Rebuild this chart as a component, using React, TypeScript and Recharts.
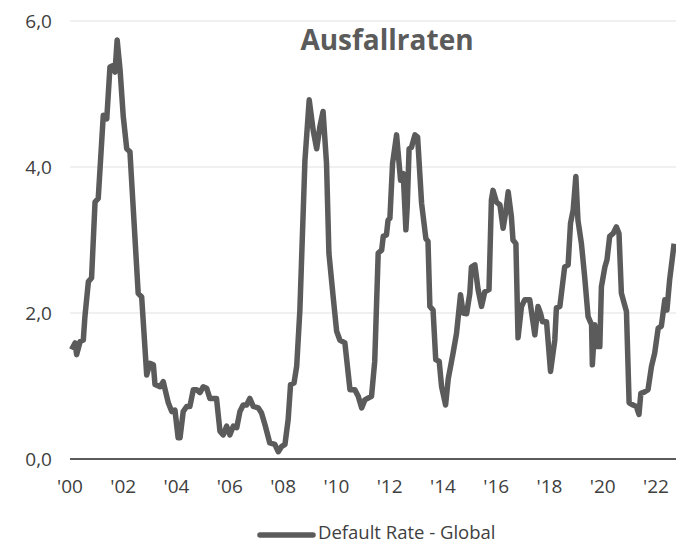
import { LineChart, Line, XAxis, YAxis, CartesianGrid, Legend, Customized } from "recharts";

// decimal years
const dates = [
  2000.06, 2000.19, 2000.25, 2000.38, 2000.5, 2000.56, 2000.69, 2000.81, 2000.94, 2001.06,
  2001.25, 2001.38, 2001.5, 2001.62, 2001.69, 2001.77, 2001.88, 2002.0, 2002.13, 2002.25,
  2002.56, 2002.69, 2002.88, 2003.0, 2003.13, 2003.19, 2003.38, 2003.5, 2003.69, 2003.82,
  2003.94, 2004.06, 2004.13, 2004.25, 2004.38, 2004.5, 2004.63, 2004.75, 2004.88, 2005.0,
  2005.13, 2005.25, 2005.5, 2005.63, 2005.75, 2005.88, 2006.0, 2006.13, 2006.26, 2006.38,
  2006.5, 2006.63, 2006.75, 2006.88, 2007.07, 2007.19, 2007.32, 2007.5, 2007.69, 2007.82,
  2007.94, 2008.07, 2008.19, 2008.28, 2008.41, 2008.51, 2008.63, 2008.82, 2008.98, 2009.13,
  2009.26, 2009.38, 2009.5, 2009.63, 2009.72, 2009.88, 2010.01, 2010.13, 2010.32, 2010.51,
  2010.69, 2010.82, 2010.95, 2011.07, 2011.32, 2011.44, 2011.57, 2011.7, 2011.76, 2011.88,
  2011.94, 2012.01, 2012.11, 2012.26, 2012.41, 2012.51, 2012.61, 2012.66, 2012.73, 2012.82,
  2012.95, 2013.05, 2013.2, 2013.36, 2013.44, 2013.51, 2013.63, 2013.73, 2013.86, 2013.95,
  2014.1, 2014.2, 2014.38, 2014.51, 2014.66, 2014.76, 2014.89, 2015.01, 2015.07, 2015.2,
  2015.32, 2015.45, 2015.57, 2015.73, 2015.82, 2015.88, 2016.01, 2016.14, 2016.26, 2016.36,
  2016.45, 2016.57, 2016.63, 2016.74, 2016.82, 2016.95, 2017.07, 2017.26, 2017.38, 2017.45,
  2017.57, 2017.66, 2017.74, 2017.89, 2018.04, 2018.2, 2018.26, 2018.39, 2018.45, 2018.57,
  2018.7, 2018.79, 2018.89, 2018.99, 2019.07, 2019.2, 2019.32, 2019.45, 2019.58, 2019.61,
  2019.7, 2019.76, 2019.89, 2019.95, 2020.08, 2020.16, 2020.26, 2020.39, 2020.51, 2020.61,
  2020.7, 2020.89, 2020.99, 2021.14, 2021.26, 2021.36, 2021.43, 2021.58, 2021.7, 2021.83,
  2021.95, 2022.08, 2022.2, 2022.33, 2022.41, 2022.51, 2022.68,
];

const rates = [
  1.5, 1.59, 1.43, 1.61, 1.63, 1.95, 2.43, 2.48, 3.52, 3.57,
  4.71, 4.66, 5.37, 5.39, 5.3, 5.74, 5.33, 4.69, 4.25, 4.21,
  2.27, 2.22, 1.15, 1.31, 1.29, 1.02, 0.99, 1.06, 0.77, 0.65,
  0.67, 0.29, 0.29, 0.65, 0.72, 0.72, 0.95, 0.95, 0.91, 0.99,
  0.97, 0.83, 0.83, 0.38, 0.33, 0.45, 0.33, 0.45, 0.43, 0.65,
  0.74, 0.74, 0.83, 0.72, 0.7, 0.63, 0.47, 0.22, 0.2, 0.1,
  0.17, 0.2, 0.54, 1.02, 1.04, 1.27, 2.04, 4.09, 4.92, 4.5,
  4.25, 4.55, 4.76, 4.05, 2.82, 2.22, 1.75, 1.63, 1.59, 0.95,
  0.95, 0.86, 0.7, 0.81, 0.86, 1.34, 2.82, 2.86, 3.05, 3.07,
  3.27, 3.3, 4.05, 4.44, 3.82, 3.91, 3.14, 3.46, 4.25, 4.27,
  4.44, 4.41, 3.5, 3.02, 2.98, 2.09, 2.04, 1.36, 1.34, 0.99,
  0.74, 1.1, 1.45, 1.72, 2.25, 2.0, 1.99, 2.27, 2.63, 2.66,
  2.32, 2.09, 2.29, 2.32, 3.55, 3.68, 3.52, 3.48, 3.16, 3.39,
  3.66, 3.32, 3.0, 2.95, 1.66, 2.09, 2.18, 2.18, 1.88, 1.7,
  2.09, 2.0, 1.88, 1.88, 1.2, 1.63, 2.07, 2.09, 2.27, 2.63,
  2.66, 3.23, 3.41, 3.87, 3.27, 2.95, 2.5, 1.95, 1.84, 1.29,
  1.84, 1.54, 1.54, 2.36, 2.63, 2.73, 3.05, 3.09, 3.18, 3.09,
  2.27, 2.02, 0.77, 0.74, 0.72, 0.61, 0.9, 0.92, 0.95, 1.27,
  1.45, 1.79, 1.82, 2.18, 2.04, 2.45, 2.95,
];

const yearTicks = [2000, 2002, 2004, 2006, 2008, 2010, 2012, 2014, 2016, 2018, 2020, 2022];
const rateTicks = [0, 2, 4, 6];

const seriesName = "Default Rate - Global";
const title = "Ausfallraten";

const data = dates.map((t, i) => ({ t, rate: rates[i] }));

const GRAY = "#5b5b5b";
const FONT = "'Open Sans', sans-serif";

const renderLegend = () => (
  <div style={{ position: "relative", height: 35, fontFamily: FONT }}>
    <svg width={60} height={10} style={{ position: "absolute", left: 256, top: 21 }}>
      <line x1={4} y1={5} x2={57} y2={5} stroke={GRAY} strokeWidth={5.5} strokeLinecap="round" />
    </svg>
    <span
      style={{
        position: "absolute",
        left: 318,
        top: 12,
        fontSize: 18.5,
        lineHeight: "22px",
        color: "#404040",
        whiteSpace: "nowrap",
      }}
    >
      {seriesName}
    </span>
  </div>
);

export default function App() {
  return (
    <div style={{ position: "fixed", left: 0, top: 0, background: "#fff" }}>
      <LineChart
        width={676}
        height={544}
        data={data}
        margin={{ top: 21, right: 0, bottom: 0, left: 0 }}
      >
        <CartesianGrid vertical={false} stroke="#ebebeb" strokeWidth={1.5} />
        <XAxis
          dataKey="t"
          type="number"
          domain={[2000, 2022.75]}
          ticks={yearTicks}
          tickFormatter={(v: number) => "'" + String(v).slice(2)}
          tickLine={false}
          tickSize={0}
          tickMargin={21}
          height={50}
          axisLine={{ stroke: GRAY, strokeWidth: 2 }}
          tick={{ fill: "#404040", fontSize: 19, fontFamily: FONT }}
        />
        <YAxis
          type="number"
          domain={[0, 6]}
          ticks={rateTicks}
          tickFormatter={(v: number) => v.toFixed(1).replace(".", ",")}
          width={70}
          axisLine={false}
          tickLine={false}
          tickSize={0}
          tickMargin={18}
          tick={{ fill: "#404040", fontSize: 19, fontFamily: FONT }}
        />
        <Legend verticalAlign="bottom" height={35} content={renderLegend} />
        <Line
          type="linear"
          dataKey="rate"
          name={seriesName}
          stroke={GRAY}
          strokeWidth={5.5}
          strokeLinejoin="round"
          dot={false}
          activeDot={false}
          isAnimationActive={false}
        />
        <Customized
          component={() => (
            <text
              x={387}
              y={50}
              textAnchor="middle"
              fontFamily={FONT}
              fontWeight="bold"
              fontSize={28}
              fill={GRAY}
            >
              {title}
            </text>
          )}
        />
      </LineChart>
    </div>
  );
}
